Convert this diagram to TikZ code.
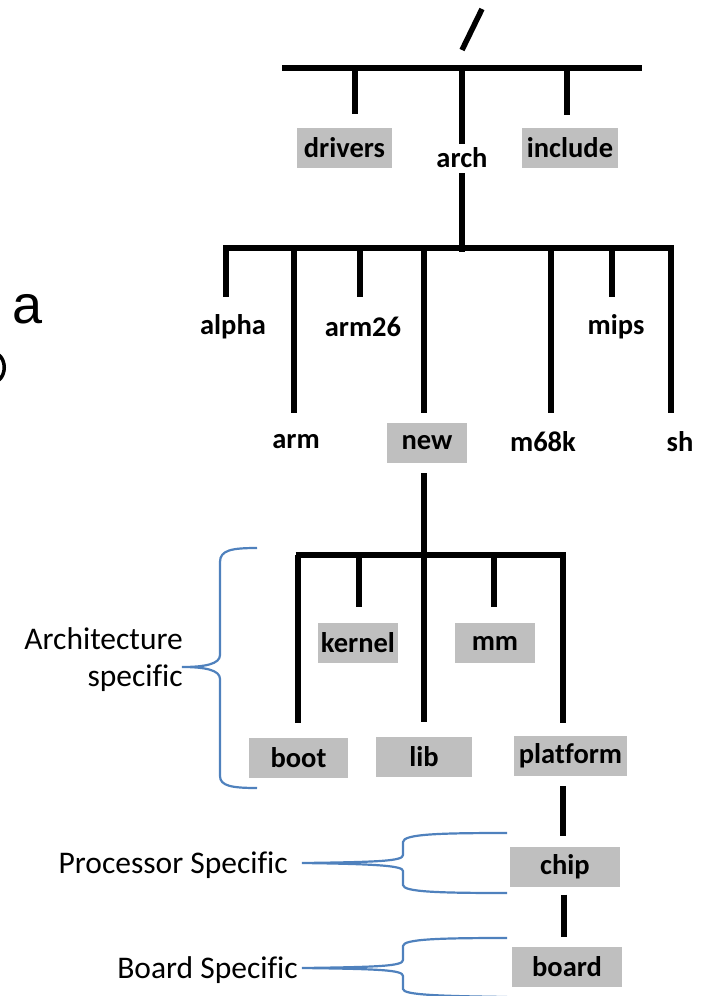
\documentclass[tikz,border=0pt]{standalone}
\usepackage{fontspec}
\setmainfont{Carlito}[Ligatures=CommonOff]
\newfontfamily\slidefont{Liberation Sans}
\usepackage{xcolor}
\usetikzlibrary{positioning, calc}
\definecolor{dirgray}{RGB}{191, 191, 191}
\definecolor{braceblue}{RGB}{79, 129, 189}

\begin{document}
\begin{tikzpicture}[x=1pt, y=-1pt,
    dirname/.style={font=\bfseries\fontsize{28.5}{30}\selectfont, minimum height=40pt, inner sep=0pt},
    dirbox/.style={dirname, fill=dirgray, minimum width=#1},
    trunk/.style={line width=6pt},
    stem/.style={line width=5.5pt},
    note/.style={font=\fontsize{31.5}{37}\selectfont, align=right, inner sep=0pt},
    brace/.style={braceblue, line width=2.2pt}]
    \useasboundingbox (0,0) rectangle (703,996);
    % Leftovers of the slide
    \node[font=\slidefont\fontsize{54}{60}\selectfont, anchor=base west, inner sep=0pt] (slidea) at (12,323) {a};
    \draw[line width=3.5pt] (-1,355) .. controls (6,361) and (6,374) .. (-1,380);
    % Root
    \draw[stem] (462,50) -- (482,9);
    % Top level
    \node[dirbox=95pt] (drivers) at (344.5,147.5) {drivers};
    \node[dirname, minimum height=0pt, anchor=base] (arch) at (462,167) {arch};
    \node[dirbox=96pt] (include) at (570,148) {include};
    % Architectures
    \node[dirname] (alpha) at (233,327) {alpha};
    \node[dirname] (arm26) at (363,327) {arm26};
    \node[dirname] (mips) at (616,327) {mips};
    \node[dirname] (arm) at (296,442) {arm};
    \node[dirbox=80pt] (new) at (427,443) {new};
    \node[dirname] (m68k) at (543,442) {m68k};
    \node[dirname] (sh) at (680,442) {sh};
    % Inside the new architecture
    \node[dirbox=80pt] (kernel) at (358,643) {kernel};
    \node[dirbox=80pt] (mm) at (495,643) {mm};
    \node[dirbox=99pt] (boot) at (298.5,757.5) {boot};
    \node[dirbox=96pt] (lib) at (424,756.5) {lib};
    \node[dirbox=113pt] (platform) at (570.5,756) {platform};
    \node[dirbox=110pt] (chip) at (565,866.5) {chip};
    \node[dirbox=110pt] (board) at (567,966.5) {board};

    % Top bar and its branches
    \coordinate (top-l) at (282,68);
    \coordinate (top-r) at (642,68);
    \draw[trunk] (top-l) -- (top-r);
    \foreach \d/\x in {drivers/355, include/567} {
        \coordinate (j-\d) at (\x,68);
        \draw[stem] (j-\d) -- ($(j-\d |- \d.north)+(0,-13)$);
    }
    \coordinate (j-arch) at (462,68);
    \coordinate (hub-arch) at (462,252);
    \draw[stem] (j-arch) -- ($(arch.north)+(0,-3)$);
    \draw[stem] ($(arch.south)+(0,6)$) -- (hub-arch);

    % Second bar
    \coordinate (mid-l) at (223,248);
    \coordinate (mid-r) at (674,248);
    \draw[trunk] (mid-l) -- (mid-r);
    \foreach \d/\x/\g in {alpha/226/10, arm/294/9, arm26/360/10, new/424/10, m68k/551/9, mips/612/10, sh/671/9} {
        \coordinate (j-\d) at (\x,248);
        \draw[stem] (j-\d) -- ($(j-\d |- \d.north)+(0,-\g)$);
    }
    \coordinate (hub-new) at (424,555);
    \draw[stem] ($(new.south)+(-3,10)$) -- (hub-new);

    % Third bar
    \coordinate (low-l) at (295.5,555);
    \coordinate (low-r) at (566,555);
    \draw[trunk] (low-l) -- (low-r);
    \foreach \d/\x/\g in {boot/298/14, kernel/359/16, lib/424/14, mm/494/16, platform/563/13} {
        \coordinate (j-\d) at (\x,555);
        \draw[stem] (j-\d) -- ($(j-\d |- \d.north)+(0,-\g)$);
    }
    \draw[stem] ($(platform.south)+(-7.5,10)$) -- ($(chip.north)+(-2,-10)$);
    \draw[stem] ($(chip.south)+(-1,8)$) -- ($(board.north)+(-3,-9)$);

    % Braces and notes
    \node[note, anchor=east] (archnote) at (183,659.5) {Architecture\\specific};
    \node[note, anchor=base east] (procnote) at (288,873) {Processor Specific};
    \node[note, anchor=base east] (boardnote) at (298,978) {Board Specific};
    \coordinate (archtip) at (182,667);
    \coordinate (proctip) at (302,863);
    \coordinate (boardtip) at (302,968);
    \draw[brace] (257,548) .. controls (232,548) and (220,550) .. (220,562) -- (220,655)
        .. controls (220,664) and (205,667) .. (archtip)
        .. controls (205,667) and (220,670) .. (220,679) -- (220,776)
        .. controls (220,786) and (232,788) .. (257,788);
    \draw[brace] (507,833) .. controls (440,833) and (403,834) .. (403,842) -- (403,855)
        .. controls (403,861) and (380,862) .. (proctip)
        .. controls (380,864) and (403,866) .. (403,871) -- (403,885)
        .. controls (403,892) and (440,893) .. (507,893);
    \draw[brace] (507,938) .. controls (440,938) and (403,939) .. (403,946) -- (403,960)
        .. controls (403,966) and (380,967) .. (boardtip)
        .. controls (380,969) and (403,970) .. (403,976) -- (403,989)
        .. controls (403,995) and (440,996) .. (507,997);
\end{tikzpicture}
\end{document}
